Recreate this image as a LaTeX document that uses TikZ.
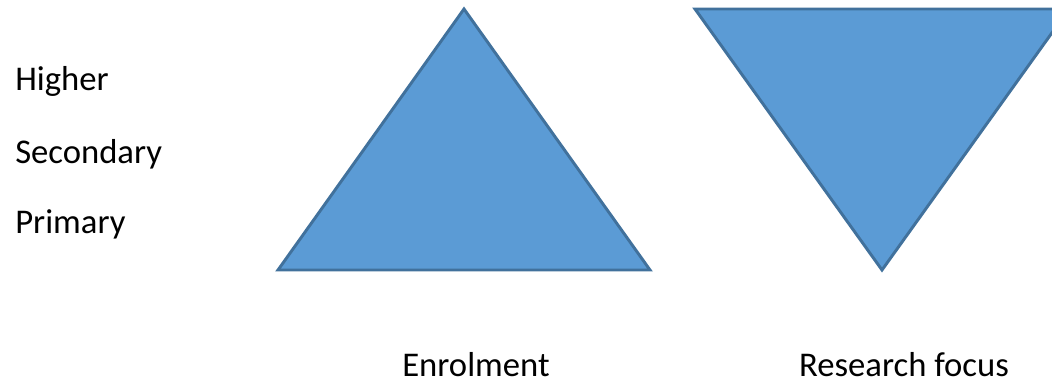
\documentclass[tikz,border=0pt]{standalone}
\usepackage{fontspec}
\setmainfont{Carlito}
\definecolor{tfill}{HTML}{5B9BD5}
\definecolor{tline}{HTML}{41719C}
\begin{document}
\begin{tikzpicture}[x=0.75pt,y=-0.75pt,
  tri/.style={fill=tfill,draw=tline,line width=2.2pt,line join=miter},
  lbl/.style={inner sep=0pt,font=\fontsize{26}{30}\selectfont}]
\useasboundingbox (0,0) rectangle (1052,381);
\begin{scope}
\clip (0,0) rectangle (1052,381);
\path[tri] (464,9) coordinate (a1) -- (650,270) coordinate (a2) -- (278,270) coordinate (a3) -- cycle;
\path[tri] (695,9) coordinate (b1) -- (1069,9) coordinate (b2) -- (882,270) coordinate (b3) -- cycle;
\end{scope}
\node[lbl,anchor=base west] (higher) at (15,91) {Higher};
\node[lbl,anchor=base west] (secondary) at (15,163) {Secondary};
\node[lbl,anchor=base west] (primary) at (15,233) {Primary};
\node[lbl,anchor=base,text depth=0pt] (enrol) at (476,376) {Enrolment};
\node[lbl,anchor=base,text depth=0pt] (focus) at (904,376) {Research focus};
\end{tikzpicture}
\end{document}
